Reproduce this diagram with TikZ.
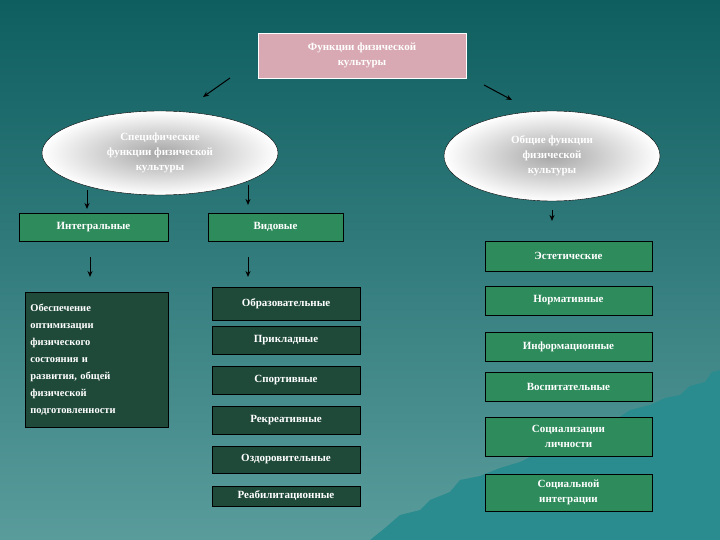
\documentclass[tikz,border=0pt]{standalone}
\usepackage{fontspec}
\setmainfont{Liberation Serif}
\usetikzlibrary{shapes.geometric,arrows.meta}
\definecolor{bgtop}{HTML}{0E5E60}
\definecolor{bgbot}{HTML}{5A9C9C}
\definecolor{mount}{HTML}{2A8C8E}
\definecolor{gbox}{HTML}{2E8B5C}
\definecolor{dbox}{HTML}{1F4A3A}
\definecolor{pbox}{HTML}{D8A9B2}
\begin{document}
\begin{tikzpicture}[x=1pt,y=-1pt,
 txt/.style={text=white,font=\bfseries\fontsize{11}{15}\selectfont,align=center},
 gb/.style={txt,draw=black,fill=gbox,line width=0.8pt,inner sep=0pt},
 db/.style={txt,draw=black,fill=dbox,line width=0.8pt,inner sep=0pt},
 el/.style={ellipse,draw=black,inner color=gray!70,outer color=white,txt,text=white,inner sep=0pt},
 ar/.style={-{Stealth[length=6pt,width=5pt]},line width=1pt}]
\fill[top color=bgtop,bottom color=bgbot] (0,0) rectangle (720,540);
\useasboundingbox (0,0) rectangle (720,540);
\fill[mount] (370,540) -- (385,528) -- (400,515) -- (420,510) -- (430,500) -- (450,492) -- (460,480) -- (480,476) -- (500,468) -- (520,462) -- (540,452) -- (560,448) -- (580,436) -- (600,425) -- (615,420) -- (630,410) -- (650,405) -- (665,398) -- (680,395) -- (690,386) -- (705,382) -- (712,372) -- (720,370) -- (720,540) -- cycle;
\node[txt,draw=white,fill=pbox,minimum width=208pt,minimum height=45pt,inner sep=0pt] (top) at (362,55.5) {Функции физической\\культуры};
\node[el,minimum width=236pt,minimum height=84pt] (sp) at (160,153) {Специфические\\функции физической\\культуры};
\node[el,minimum width=216pt,minimum height=90pt] (ob) at (552,156) {Общие функции\\физической\\культуры};
\node[gb,minimum width=149pt,minimum height=28pt] (int) at (93.5,227) {Интегральные};
\node[gb,minimum width=135pt,minimum height=28pt] (vid) at (275.5,227) {Видовые};
\node[gb,minimum width=167pt,minimum height=30pt] (est) at (568.5,256) {Эстетические};
\node[gb,minimum width=167pt,minimum height=29pt] (nor) at (568.5,300.5) {Нормативные};
\node[gb,minimum width=167pt,minimum height=29pt] (inf) at (568.5,346.5) {Информационные};
\node[gb,minimum width=167pt,minimum height=29pt] (vos) at (568.5,386.5) {Воспитательные};
\node[gb,minimum width=167pt,minimum height=39pt] (soc) at (568.5,436.5) {Социализации\\личности};
\node[gb,minimum width=167pt,minimum height=37pt] (sin) at (568.5,492.5) {Социальной\\интеграции};
\node[db,minimum width=143pt,minimum height=135pt,align=left,anchor=north west,text width=133pt,inner xsep=5pt,inner ysep=5pt,font=\bfseries\fontsize{10.5}{17}\selectfont] (obs) at (25,292) {Обеспечение\\оптимизации\\физического\\состояния и\\развития, общей\\физической\\подготовленности};
\node[db,minimum width=148pt,minimum height=33pt] (obr) at (286,303.5) {Образовательные};
\node[db,minimum width=148pt,minimum height=28pt] (pri) at (286,340) {Прикладные};
\node[db,minimum width=148pt,minimum height=28pt] (spo) at (286,380) {Спортивные};
\node[db,minimum width=148pt,minimum height=28pt] (rek) at (286,420) {Рекреативные};
\node[db,minimum width=148pt,minimum height=27pt] (ozd) at (286,459.5) {Оздоровительные};
\node[db,minimum width=148pt,minimum height=20pt] (rea) at (286,496) {Реабилитационные};
\coordinate (a1) at (230,78); \coordinate (a1e) at (203,97);
\coordinate (a2) at (484,85); \coordinate (a2e) at (512,100);
\coordinate (a3) at (87,190); \coordinate (a3e) at (87,209);
\coordinate (a4) at (248,185); \coordinate (a4e) at (248,205);
\coordinate (a5) at (552,210); \coordinate (a5e) at (552,221);
\coordinate (a6) at (90,257); \coordinate (a6e) at (90,277);
\coordinate (a7) at (248,257); \coordinate (a7e) at (248,277);
\foreach \s/\e in {a1/a1e,a2/a2e,a3/a3e,a4/a4e,a5/a5e,a6/a6e,a7/a7e} \draw[ar] (\s) -- (\e);
\end{tikzpicture}
\end{document}
